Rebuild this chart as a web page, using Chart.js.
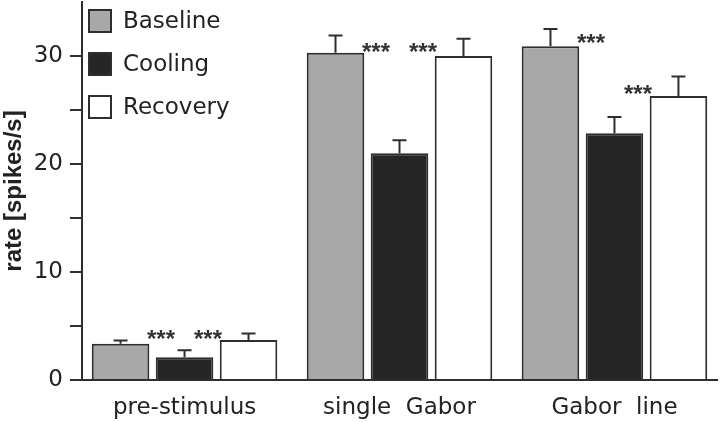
<!DOCTYPE html>
<html>
<head>
<meta charset="utf-8">
<script src="https://cdn.jsdelivr.net/npm/chart.js@4.4.0/dist/chart.umd.min.js"></script>
<style>
  html, body { margin: 0; padding: 0; background: #fff; }
  #wrap { width: 720px; height: 422px; position: relative; }
</style>
</head>
<body>
<div id="wrap"><canvas id="c" width="720" height="422"></canvas></div>
<script>
// ---- data ----
const categories = ['pre-stimulus', 'single  Gabor', 'Gabor  line'];
const seriesNames = ['Baseline', 'Cooling', 'Recovery'];
const baseline = [3.35, 30.3, 30.9];
const cooling = [2.1, 21.0, 22.85];
const recovery = [3.7, 30.0, 26.3];
const baselineErr = [0.3, 1.6, 1.6];
const coolingErr = [0.65, 1.2, 1.5];
const recoveryErr = [0.6, 1.6, 1.8];
// significance markers: level for marker left of / right of the Cooling bar
const starsLeft = [4.35, 30.9, 31.7];
const starsRight = [4.35, 30.9, 27.0];
const yTicks = [0, 10, 20, 30];

const fills = ['#a8a8a8', '#262626', '#ffffff'];
const edge = '#2e2e2e';
const txt = '#222222';
const allVals = [baseline, cooling, recovery];
const allErrs = [baselineErr, coolingErr, recoveryErr];

Chart.defaults.font.family = 'DejaVu Sans';
Chart.defaults.color = txt;

const errorBars = {
  id: 'errorBars',
  afterDatasetsDraw(chart) {
    const ctx = chart.ctx, ys = chart.scales.y;
    ctx.save();
    ctx.strokeStyle = edge;
    ctx.lineWidth = 2;
    chart.data.datasets.forEach((ds, i) => {
      const meta = chart.getDatasetMeta(i);
      meta.data.forEach((el, j) => {
        const top = ys.getPixelForValue(allVals[i][j]);
        const e = ys.getPixelForValue(allVals[i][j] + allErrs[i][j]);
        ctx.beginPath();
        ctx.moveTo(el.x, top);
        ctx.lineTo(el.x, e);
        ctx.moveTo(el.x - 7, e);
        ctx.lineTo(el.x + 7, e);
        ctx.stroke();
      });
    });
    // stars
    const meta = chart.getDatasetMeta(1);
    ctx.fillStyle = '#333';
    ctx.font = 'bold 24px "Liberation Sans"';
    ctx.textAlign = 'center';
    ctx.textBaseline = 'alphabetic';
    meta.data.forEach((el, j) => {
      const off = 23.5;
      ctx.fillText('***', el.x - off, ys.getPixelForValue(starsLeft[j]) + 13.5);
      ctx.fillText('***', el.x + off, ys.getPixelForValue(starsRight[j]) + 13.5);
    });
    ctx.restore();
  }
};

const boxLegend = {
  id: 'boxLegend',
  afterDraw(chart) {
    const ctx = chart.ctx;
    ctx.save();
    ctx.font = '23px "DejaVu Sans"';
    ctx.textBaseline = 'middle';
    ctx.textAlign = 'left';
    seriesNames.forEach((n, i) => {
      const cy = 21 + i * 43;
      ctx.fillStyle = fills[i];
      ctx.fillRect(89, cy - 11, 22, 22);
      ctx.strokeStyle = edge;
      ctx.lineWidth = 2;
      ctx.strokeRect(89, cy - 11, 22, 22);
      ctx.fillStyle = txt;
      ctx.fillText(n, 123, cy + 1);
    });
    ctx.restore();
  }
};

const datasets = seriesNames.map((n, i) => ({
  label: n,
  data: allVals[i].map((v, j) => ({ x: j, y: v })),
  backgroundColor: fills[i],
  borderColor: edge,
  borderWidth: 2,
  borderSkipped: 'bottom',
  barPercentage: 0.9,
  categoryPercentage: 0.893
}));

new Chart(document.getElementById('c'), {
  type: 'bar',
  data: { datasets },
  options: {
    responsive: false,
    animation: false,
    devicePixelRatio: 1,
    layout: { padding: { left: 0, right: 3, top: 2, bottom: 0 } },
    plugins: { legend: { display: false }, tooltip: { enabled: false } },
    scales: {
      x: {
        type: 'linear',
        offset: false,
        bounds: 'ticks',
        grace: 0,
        min: -0.477,
        max: 2.477,
        grid: { display: false, offset: false },
        border: { display: true, color: edge, width: 2 },
        afterBuildTicks: (s) => { s.ticks = categories.map((_, i) => ({ value: i })); },
        afterFit: (s) => { s.height = 42; s.paddingLeft = 0; s.paddingRight = 0; },
        ticks: {
          autoSkip: false,
          maxRotation: 0,
          padding: 6,
          font: { size: 23 },
          color: txt,
          callback: (v) => categories[v]
        }
      },
      y: {
        min: 0,
        max: 35,
        afterBuildTicks: (s) => {
          const t = [];
          for (let v = 0; v <= 30; v += 5) t.push({ value: v });
          s.ticks = t;
        },
        afterFit: (s) => { s.width = 82; s.paddingTop = 0; s.paddingBottom = 0; },
        grid: {
          drawOnChartArea: false,
          drawTicks: true,
          tickLength: 12,
          color: edge,
          lineWidth: 2
        },
        border: { display: true, color: edge, width: 2 },
        ticks: {
          padding: 7,
          font: { size: 23 },
          color: txt,
          callback: (v) => (yTicks.includes(v) ? String(v) : '')
        },
        title: {
          display: true,
          text: 'rate [spikes/s]',
          font: { size: 24, weight: 'bold', family: 'Liberation Sans' },
          color: txt,
          padding: { top: 0, bottom: 0 }
        }
      }
    }
  },
  plugins: [errorBars, boxLegend]
});
</script>
</body>
</html>
